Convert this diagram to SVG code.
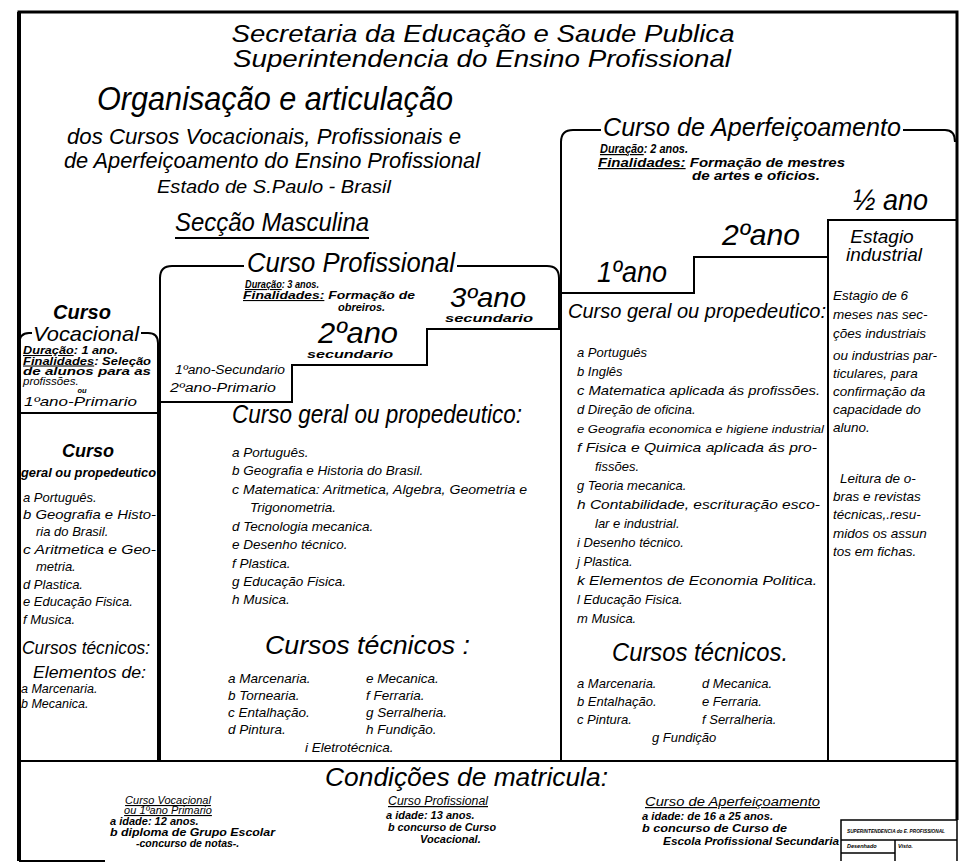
<svg xmlns="http://www.w3.org/2000/svg" width="965" height="864" viewBox="0 0 965 864">
<style>
text{font-family:"Liberation Sans",Arial,sans-serif;font-style:italic;fill:#000}
.b{font-weight:bold}
.u{text-decoration:underline}
.ln{stroke:#000;stroke-width:2;fill:none}
.fr{stroke:#000;stroke-width:3;fill:none}
.m{text-anchor:middle}
.s11{font-size:11px}
.s12{font-size:12px}
.s13{font-size:13px}
.s135{font-size:13.5px}
</style>
<rect width="965" height="864" fill="#fff"/>
<g id="frame">
<path class="fr" d="M19,861 V12 H957 V820"/>
<line x1="19" y1="12" x2="19" y2="861" stroke="#000" stroke-width="4"/>
<line class="ln" x1="19" y1="861" x2="105" y2="861"/>
<line class="ln" x1="19" y1="761" x2="957" y2="761"/>
</g>
<g id="title">
<text class="m" x="483" y="42" font-size="24" textLength="503" lengthAdjust="spacingAndGlyphs">Secretaria da Educação e Saude Publica</text>
<text class="m" x="482" y="67" font-size="24" textLength="498" lengthAdjust="spacingAndGlyphs">Superintendencia do Ensino Profissional</text>
<text class="m" x="275" y="110" font-size="33" textLength="356" lengthAdjust="spacingAndGlyphs">Organisação e articulação</text>
<text class="m" x="264" y="144" font-size="22" textLength="394" lengthAdjust="spacingAndGlyphs">dos Cursos Vocacionais, Profissionais e</text>
<text class="m" x="272" y="168" font-size="22" textLength="416" lengthAdjust="spacingAndGlyphs">de Aperfeiçoamento do Ensino Profissional</text>
<text class="m" x="274" y="193" font-size="19" textLength="234" lengthAdjust="spacingAndGlyphs">Estado de S.Paulo - Brasil</text>
<text class="m" x="272" y="231" font-size="26" textLength="194" lengthAdjust="spacingAndGlyphs">Secção Masculina</text>
<line class="ln" x1="175" y1="238" x2="369" y2="238"/>
</g>
<g id="curso-vocacional">
<path class="ln" d="M19,345 Q19,333 29,333 H32 M141,333 H148 Q158,333 158,343 V761 M19,413 H158"/>
<text class="m b" x="82" y="319" font-size="20">Curso</text>
<text class="m" x="86" y="341" font-size="21" textLength="106" lengthAdjust="spacingAndGlyphs">Vocacional</text>
<text class="b" x="23" y="354" font-size="10.5" textLength="95" lengthAdjust="spacingAndGlyphs"><tspan class="u">Duração</tspan>: 1 ano.</text>
<text class="b" x="23" y="364.5" font-size="10.5" textLength="128" lengthAdjust="spacingAndGlyphs"><tspan class="u">Finalidades</tspan>: Seleção</text>
<text class="b" x="23" y="374.5" font-size="10.5" textLength="128" lengthAdjust="spacingAndGlyphs">de alunos para as</text>
<text x="23" y="384.5" font-size="11.5">profissões.</text>
<text class="m b" x="82" y="393" font-size="7.5">ou</text>
<text class="s13" x="24" y="406" textLength="113" lengthAdjust="spacingAndGlyphs">1ºano-Primario</text>
<text class="m b" x="88" y="457" font-size="18">Curso</text>
<text class="b" x="21" y="477" font-size="12" textLength="135" lengthAdjust="spacingAndGlyphs">geral ou propedeutico</text>
<text class="s13" x="23" y="502">a Português.</text>
<text class="s13" x="23" y="519" textLength="133" lengthAdjust="spacingAndGlyphs">b Geografia e Histo-</text>
<text class="s13" x="36" y="536">ria do Brasil.</text>
<text class="s13" x="23" y="554" textLength="133" lengthAdjust="spacingAndGlyphs">c Aritmetica e Geo-</text>
<text class="s13" x="36" y="571">metria.</text>
<text class="s13" x="23" y="589">d Plastica.</text>
<text class="s13" x="23" y="606">e Educação Fisica.</text>
<text class="s13" x="23" y="624">f  Musica.</text>
<text x="22" y="654" font-size="18" textLength="128" lengthAdjust="spacingAndGlyphs">Cursos técnicos:</text>
<text x="33" y="678" font-size="16" textLength="113" lengthAdjust="spacingAndGlyphs">Elementos de:</text>
<text x="21" y="693" font-size="12.5">a Marcenaria.</text>
<text x="21" y="708" font-size="12.5">b Mecanica.</text>
</g>
<g id="curso-profissional">
<path class="ln" d="M160,761 V278 Q160,266 172,266 H244 M457,266 H547 Q559,266 559,278 V330"/>
<path class="ln" d="M160,402 H292 V365 H427 V329 H561"/>
<text x="247" y="272" font-size="27" textLength="208" lengthAdjust="spacingAndGlyphs">Curso Profissional</text>
<text class="b s11" x="245" y="288" textLength="74" lengthAdjust="spacingAndGlyphs"><tspan class="u">Duração</tspan>: 3 anos.</text>
<text class="b s11" x="243" y="299" textLength="172" lengthAdjust="spacingAndGlyphs"><tspan class="u">Finalidades:</tspan> Formação de</text>
<text class="b s11" x="338" y="311">obreiros.</text>
<text x="450" y="307" font-size="28" textLength="76" lengthAdjust="spacingAndGlyphs">3ºano</text>
<text class="b s11" x="445" y="322" textLength="88" lengthAdjust="spacingAndGlyphs">secundario</text>
<text x="318" y="343" font-size="30" textLength="80" lengthAdjust="spacingAndGlyphs">2ºano</text>
<text class="b s11" x="307" y="358" textLength="86" lengthAdjust="spacingAndGlyphs">secundario</text>
<text x="175" y="374" font-size="12" textLength="110" lengthAdjust="spacingAndGlyphs">1ºano-Secundario</text>
<text x="170" y="392" font-size="12" textLength="106" lengthAdjust="spacingAndGlyphs">2ºano-Primario</text>
<text x="232" y="423" font-size="26" textLength="290" lengthAdjust="spacingAndGlyphs">Curso geral ou propedeutico:</text>
<text class="s135" x="232" y="457">a Português.</text>
<text class="s135" x="232" y="475">b Geografia e Historia do Brasil.</text>
<text class="s135" x="232" y="494" textLength="295" lengthAdjust="spacingAndGlyphs">c Matematica: Aritmetica, Algebra, Geometria e</text>
<text class="s135" x="250" y="512">Trigonometria.</text>
<text class="s135" x="232" y="531">d Tecnologia mecanica.</text>
<text class="s135" x="232" y="549">e Desenho técnico.</text>
<text class="s135" x="232" y="568">f  Plastica.</text>
<text class="s135" x="232" y="586">g Educação Fisica.</text>
<text class="s135" x="232" y="604">h Musica.</text>
<text x="265" y="654" font-size="26" textLength="205" lengthAdjust="spacingAndGlyphs">Cursos técnicos :</text>
<text class="s135" x="228" y="683">a Marcenaria.</text>
<text class="s135" x="228" y="700">b Tornearia.</text>
<text class="s135" x="228" y="717">c Entalhação.</text>
<text class="s135" x="228" y="734">d Pintura.</text>
<text class="s135" x="366" y="683">e Mecanica.</text>
<text class="s135" x="366" y="700">f  Ferraria.</text>
<text class="s135" x="366" y="717">g Serralheria.</text>
<text class="s135" x="366" y="734">h Fundição.</text>
<text class="s135" x="305" y="752">i  Eletrotécnica.</text>
</g>
<g id="curso-aperfeicoamento">
<path class="ln" d="M561,761 V142 Q561,130 573,130 H601 M903,130 H945 Q955,130 955,142"/>
<path class="ln" d="M561,293 H694 V257 H828"/>
<text x="603" y="136" font-size="26" textLength="298" lengthAdjust="spacingAndGlyphs">Curso de Aperfeiçoamento</text>
<text class="b s12" x="600" y="153" textLength="88" lengthAdjust="spacingAndGlyphs"><tspan class="u">Duração</tspan>: 2 anos.</text>
<text class="b s12" x="598" y="167" textLength="247" lengthAdjust="spacingAndGlyphs"><tspan class="u">Finalidades:</tspan> Formação de mestres</text>
<text class="b s12" x="692" y="180" textLength="128" lengthAdjust="spacingAndGlyphs">de artes e oficios.</text>
<text x="853" y="210" font-size="30" textLength="75" lengthAdjust="spacingAndGlyphs">½ ano</text>
<text x="722" y="245" font-size="30" textLength="78" lengthAdjust="spacingAndGlyphs">2ºano</text>
<text x="597" y="282" font-size="30" textLength="70" lengthAdjust="spacingAndGlyphs">1ºano</text>
<text x="568" y="318" font-size="21" textLength="258" lengthAdjust="spacingAndGlyphs">Curso geral ou propedeutico:</text>
<text class="s13" x="577" y="357">a Português</text>
<text class="s13" x="577" y="376">b Inglês</text>
<text class="s13" x="577" y="395" textLength="243" lengthAdjust="spacingAndGlyphs">c Matematica aplicada ás profissões.</text>
<text class="s13" x="577" y="414">d Direção de oficina.</text>
<text x="577" y="433" font-size="11.5" textLength="247" lengthAdjust="spacingAndGlyphs">e Geografia economica e higiene industrial</text>
<text class="s13" x="577" y="452" textLength="240" lengthAdjust="spacingAndGlyphs">f  Fisica e Quimica aplicada ás pro-</text>
<text class="s13" x="595" y="471">fissões.</text>
<text class="s13" x="577" y="490">g Teoria mecanica.</text>
<text class="s13" x="577" y="509" textLength="243" lengthAdjust="spacingAndGlyphs">h Contabilidade, escrituração esco-</text>
<text class="s13" x="595" y="528">lar e industrial.</text>
<text class="s13" x="577" y="547">i  Desenho técnico.</text>
<text class="s13" x="577" y="566">j  Plastica.</text>
<text class="s13" x="577" y="585" textLength="240" lengthAdjust="spacingAndGlyphs">k Elementos de Economia Politica.</text>
<text class="s13" x="577" y="604">l  Educação Fisica.</text>
<text class="s13" x="577" y="623">m Musica.</text>
<text x="612" y="661" font-size="25" textLength="176" lengthAdjust="spacingAndGlyphs">Cursos técnicos.</text>
<text class="s13" x="577" y="688">a Marcenaria.</text>
<text class="s13" x="577" y="706">b Entalhação.</text>
<text class="s13" x="577" y="724">c Pintura.</text>
<text class="s13" x="702" y="688">d Mecanica.</text>
<text class="s13" x="702" y="706">e Ferraria.</text>
<text class="s13" x="702" y="724">f  Serralheria.</text>
<text class="s13" x="652" y="742">g Fundição</text>
</g>
<g id="estagio-industrial">
<path class="ln" d="M828,761 V220 H957"/>
<text class="m" x="882" y="243" font-size="19">Estagio</text>
<text class="m" x="884" y="261" font-size="19">industrial</text>
<text class="s135" x="833" y="300">Estagio de 6</text>
<text class="s135" x="833" y="319">meses nas sec-</text>
<text class="s135" x="833" y="338">ções industriais</text>
<text class="s135" x="833" y="360">ou industrias par-</text>
<text class="s135" x="833" y="378">ticulares, para</text>
<text class="s135" x="833" y="396">confirmação da</text>
<text class="s135" x="833" y="414">capacidade do</text>
<text class="s135" x="833" y="432">aluno.</text>
<text class="s135" x="840" y="483">Leitura de o-</text>
<text class="s135" x="833" y="501">bras e revistas</text>
<text class="s135" x="833" y="519">técnicas,.resu-</text>
<text class="s135" x="833" y="538">midos os assun</text>
<text class="s135" x="833" y="556">tos em fichas.</text>
</g>
<g id="condicoes-matricula">
<text x="325" y="786" font-size="25" textLength="283" lengthAdjust="spacingAndGlyphs">Condições de matricula:</text>
<text class="m s11 u" x="168" y="804">Curso Vocacional</text>
<text class="m s11 u" x="168" y="814">ou 1ºano Primario</text>
<text class="b s11" x="110" y="825">a  idade: 12 anos.</text>
<text class="b s11" x="110" y="836" textLength="165" lengthAdjust="spacingAndGlyphs">b diploma de Grupo Escolar</text>
<text class="b" x="136" y="847" font-size="10.5">-concurso de notas-.</text>
<text class="s12 u" x="388" y="805" textLength="100" lengthAdjust="spacingAndGlyphs">Curso Profissional</text>
<text class="b s11" x="386" y="819">a  idade: 13 anos.</text>
<text class="b s11" x="388" y="831" textLength="108" lengthAdjust="spacingAndGlyphs">b concurso de Curso</text>
<text class="b s11" x="420" y="843">Vocacional.</text>
<text class="s12 u" x="645" y="806" textLength="175" lengthAdjust="spacingAndGlyphs">Curso de Aperfeiçoamento</text>
<text class="b s11" x="642" y="820" textLength="131" lengthAdjust="spacingAndGlyphs">a idade: de 16 a 25 anos.</text>
<text class="b s11" x="642" y="832" textLength="145" lengthAdjust="spacingAndGlyphs">b concurso de Curso de</text>
<text class="b" x="663" y="845" font-size="11.5" textLength="176" lengthAdjust="spacingAndGlyphs">Escola Profissional Secundaria</text>
</g>
<g id="title-block">
<path d="M841,861 V820 H957 V861 M841,840 H957 M895,840 V861 M841,853 H895" fill="none" stroke="#000" stroke-width="1.5"/>
<text class="b" x="847" y="833" font-size="6" textLength="98" lengthAdjust="spacingAndGlyphs">SUPERINTENDENCIA do E. PROFISSIONAL</text>
<text class="b" x="847" y="848" font-size="5.5">Desenhado</text>
<text class="b" x="898" y="848" font-size="5.5">Visto.</text>
</g>
<g id="connectors"></g>
</svg>
